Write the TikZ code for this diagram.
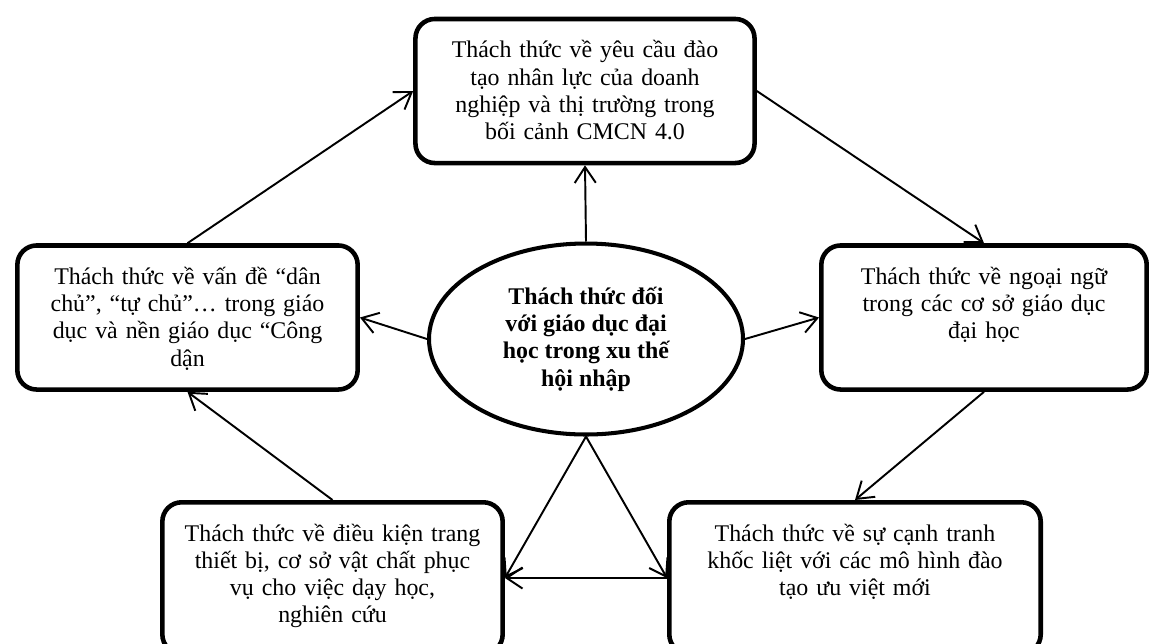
\documentclass[tikz,border=0pt]{standalone}
\usepackage{fontspec}
\setmainfont{Liberation Serif}
\usetikzlibrary{arrows.meta,shapes.geometric}

\begin{document}
\begin{tikzpicture}[x=0.02cm,y=-0.02cm,font=\fontsize{13.6}{15.5}\selectfont,
  >={Straight Barb[length=9pt,width=12pt]},
  chbox/.style={draw,line width=2.6pt,rounded corners=11pt,inner sep=0pt,
    align=center,text height=22.2pt,text depth=59.8pt},
  chell/.style={draw,ellipse,line width=2.3pt,inner sep=0pt,align=center,
    minimum width=178.7pt,minimum height=108.7pt,font=\fontsize{13.6}{15.5}\selectfont\bfseries},
  link/.style={->,line width=1.1pt}]
 \useasboundingbox (0,0) rectangle (1152,643);
 % centre
 \node[chell] (ce) at (586,339) {Thách thức đối\\ với giáo dục đại\\ học trong xu thế\\ hội nhập};
 % the five challenges
 \node[chbox,text width=193pt] (tn) at (585,91)
   {Thách thức về yêu cầu đào\\ tạo nhân lực của doanh\\ nghiệp và thị trường trong\\ bối cảnh CMCN 4.0};
 \node[chbox,text width=193.7pt] (lb) at (187.5,317.5)
   {Thách thức về vấn đề “dân\\ chủ”, “tự chủ”… trong giáo\\ dục và nền giáo dục “Công\\ dận};
 \node[chbox,text width=185.2pt] (rb) at (984,317.5)
   {Thách thức về ngoại ngữ\\ trong các cơ sở giáo dục\\ đại học};
 \node[chbox,text width=193.7pt,text depth=64pt] (bl) at (332.5,578)
   {Thách thức về điều kiện trang\\ thiết bị, cơ sở vật chất phục\\ vụ cho việc dạy học,\\ nghiên cứu};
 \node[chbox,text width=211.4pt,text depth=64pt] (br) at (855,578)
   {Thách thức về sự cạnh tranh\\ khốc liệt với các mô hình đào\\ tạo ưu việt mới};
 % links
 \draw[link] (ce.north) -- (tn.south);
 \draw[link] (ce.west) -- (lb.east);
 \draw[link] (ce.east) -- (rb.west);
 \draw[link] (ce.south) -- (bl.east);
 \draw[link] (ce.south) -- (br.west);
 \draw[link] (br.west) -- (bl.east);
 \draw[link] (lb.north) -- (tn.west);
 \draw[link] (tn.east) -- (rb.north);
 \draw[link] (rb.south) -- (br.north);
 \draw[link] (bl.north) -- (lb.south);
\end{tikzpicture}
\end{document}
